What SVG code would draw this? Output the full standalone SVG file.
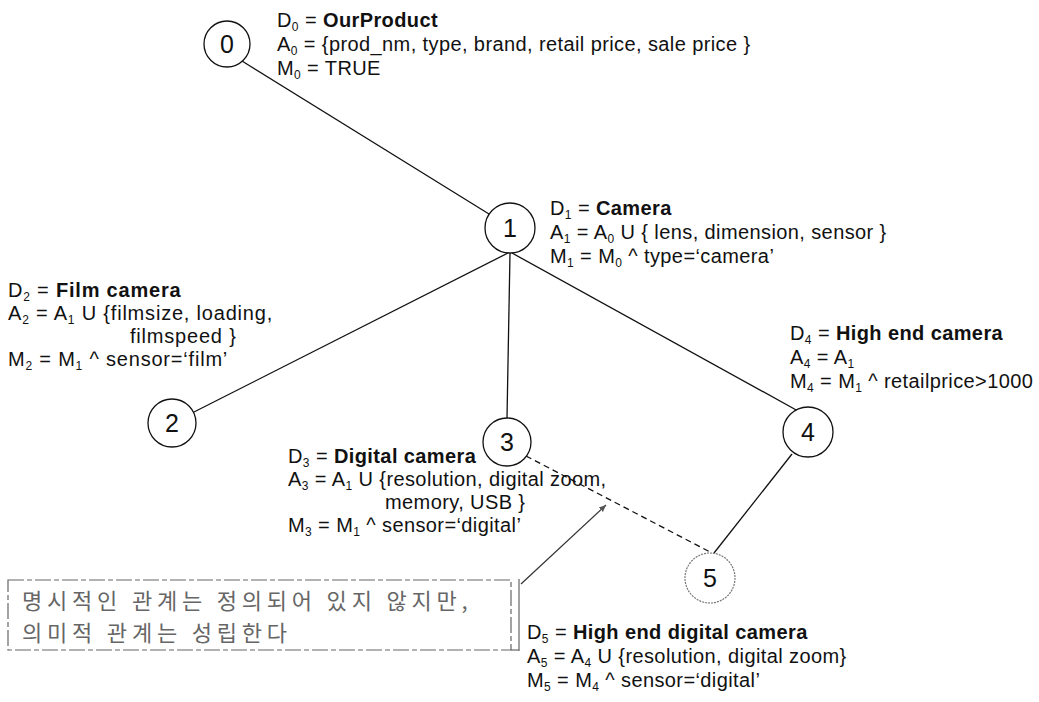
<svg xmlns="http://www.w3.org/2000/svg" width="1039" height="702" viewBox="0 0 1039 702">
<defs>
<style>
.t{font-family:"Liberation Sans",Arial,sans-serif;font-size:20px;letter-spacing:0.4px;fill:#111}
.b{font-weight:bold}
.s{font-size:12px}
.n{fill:#fff;stroke:#111;stroke-width:1.3}
.nl{font-family:"Liberation Sans",Arial,sans-serif;font-size:25px;fill:#111;text-anchor:middle}
.e{stroke:#111;stroke-width:1.3;fill:none}
.k{font-family:"Noto Sans CJK KR",sans-serif;font-size:22px;fill:#666;letter-spacing:4.8px}
</style>
<marker id="ah" markerWidth="8" markerHeight="8" refX="7" refY="4" orient="auto" markerUnits="userSpaceOnUse">
<path d="M0,1 L7,4 L0,7 Z" fill="#555"/>
</marker>
</defs>
<rect width="1039" height="702" fill="#fff"/>
<g id="connectors">
<line class="e" x1="242" y1="61" x2="489" y2="214"/>
<line class="e" x1="508" y1="253" x2="194" y2="412"/>
<line class="e" x1="510" y1="253" x2="507" y2="418"/>
<line class="e" x1="512" y1="253" x2="798" y2="411"/>
<line class="e" x1="792" y1="454" x2="714" y2="553"/>
<line class="e" x1="526" y1="456" x2="712" y2="553" stroke-dasharray="6,4"/>
<line x1="521" y1="584" x2="606" y2="505" stroke="#333" stroke-width="1.2" marker-end="url(#ah)"/>
</g>
<g id="node0">
<circle class="n" cx="227" cy="44" r="23"/>
<text class="nl" x="227" y="53">0</text>
<text class="t" x="277" y="27">D<tspan class="s" dy="4">0</tspan><tspan dy="-4"> = </tspan><tspan class="b">OurProduct</tspan></text>
<text class="t" x="277" y="51">A<tspan class="s" dy="4">0</tspan><tspan dy="-4"> = {prod_nm, type, brand, retail price, sale price }</tspan></text>
<text class="t" x="277" y="75">M<tspan class="s" dy="4">0</tspan><tspan dy="-4"> = TRUE</tspan></text>
</g>
<g id="node1">
<circle class="n" cx="510" cy="228" r="25"/>
<text class="nl" x="510" y="237">1</text>
<text class="t" x="550" y="215">D<tspan class="s" dy="4">1</tspan><tspan dy="-4"> = </tspan><tspan class="b">Camera</tspan></text>
<text class="t" x="550" y="239">A<tspan class="s" dy="4">1</tspan><tspan dy="-4"> = A</tspan><tspan class="s" dy="4">0</tspan><tspan dy="-4"> U { lens, dimension, sensor }</tspan></text>
<text class="t" x="550" y="263">M<tspan class="s" dy="4">1</tspan><tspan dy="-4"> = M</tspan><tspan class="s" dy="4">0</tspan><tspan dy="-4"> ^ type=‘camera’</tspan></text>
</g>
<g id="node2">
<circle class="n" cx="172" cy="423" r="24"/>
<text class="nl" x="172" y="432">2</text>
<text class="t" x="8" y="297" style="letter-spacing:0.8px">D<tspan class="s" dy="4">2</tspan><tspan dy="-4"> = </tspan><tspan class="b">Film camera</tspan></text>
<text class="t" x="8" y="320" style="letter-spacing:0.8px">A<tspan class="s" dy="4">2</tspan><tspan dy="-4"> = A</tspan><tspan class="s" dy="4">1</tspan><tspan dy="-4"> U {filmsize, loading,</tspan></text>
<text class="t" x="130" y="343" style="letter-spacing:0.8px">filmspeed }</text>
<text class="t" x="8" y="366" style="letter-spacing:0.8px">M<tspan class="s" dy="4">2</tspan><tspan dy="-4"> = M</tspan><tspan class="s" dy="4">1</tspan><tspan dy="-4"> ^ sensor=‘film’</tspan></text>
</g>
<g id="node3">
<circle class="n" cx="507" cy="442" r="24"/>
<text class="nl" x="507" y="451">3</text>
<text class="t" x="288" y="463">D<tspan class="s" dy="4">3</tspan><tspan dy="-4"> = </tspan><tspan class="b">Digital camera</tspan></text>
<text class="t" x="288" y="486">A<tspan class="s" dy="4">3</tspan><tspan dy="-4"> = A</tspan><tspan class="s" dy="4">1</tspan><tspan dy="-4"> U {resolution, digital zoom,</tspan></text>
<text class="t" x="385" y="509">memory, USB }</text>
<text class="t" x="288" y="532">M<tspan class="s" dy="4">3</tspan><tspan dy="-4"> = M</tspan><tspan class="s" dy="4">1</tspan><tspan dy="-4"> ^ sensor=‘digital’</tspan></text>
</g>
<g id="node4">
<circle class="n" cx="808" cy="432" r="25"/>
<text class="nl" x="808" y="441">4</text>
<text class="t" x="790" y="340">D<tspan class="s" dy="4">4</tspan><tspan dy="-4"> = </tspan><tspan class="b">High end camera</tspan></text>
<text class="t" x="790" y="364">A<tspan class="s" dy="4">4</tspan><tspan dy="-4"> = A</tspan><tspan class="s" dy="4">1</tspan></text>
<text class="t" x="790" y="388">M<tspan class="s" dy="4">4</tspan><tspan dy="-4"> = M</tspan><tspan class="s" dy="4">1</tspan><tspan dy="-4"> ^ retailprice&gt;1000</tspan></text>
</g>
<g id="node5">
<circle cx="710" cy="578" r="25" fill="#fff" stroke="#777" stroke-width="1.2" stroke-dasharray="2,1"/>
<text class="nl" x="710" y="587">5</text>
<text class="t" x="527" y="639">D<tspan class="s" dy="4">5</tspan><tspan dy="-4"> = </tspan><tspan class="b">High end digital camera</tspan></text>
<text class="t" x="527" y="663">A<tspan class="s" dy="4">5</tspan><tspan dy="-4"> = A</tspan><tspan class="s" dy="4">4</tspan><tspan dy="-4"> U {resolution, digital zoom}</tspan></text>
<text class="t" x="527" y="687">M<tspan class="s" dy="4">5</tspan><tspan dy="-4"> = M</tspan><tspan class="s" dy="4">4</tspan><tspan dy="-4"> ^ sensor=‘digital’</tspan></text>
</g>
<g id="note">
<rect x="8" y="580" width="503" height="70" fill="none" stroke="#666" stroke-width="1.2" stroke-dasharray="16,3,5,3"/>
<line x1="519" y1="579" x2="519" y2="651" stroke="#666" stroke-width="1.2"/>
<line x1="511" y1="650" x2="519" y2="650" stroke="#666" stroke-width="1.2"/>
<text class="k" x="22" y="609">명시적인 관계는 정의되어 있지 않지만,</text>
<text class="k" x="22" y="641">의미적 관계는 성립한다</text>
</g>
</svg>
